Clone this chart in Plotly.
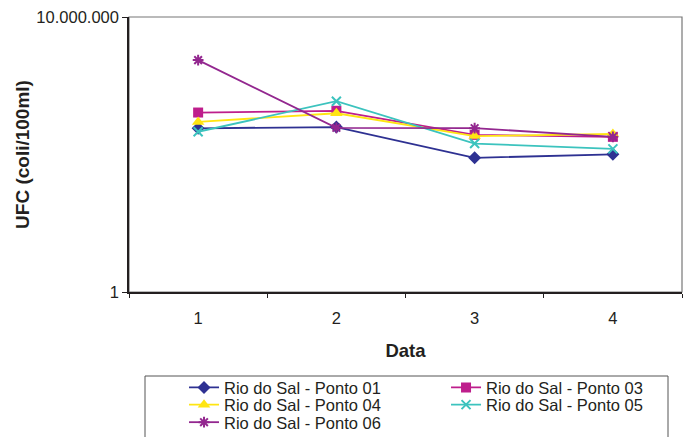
import plotly.graph_objects as go

dates = [1, 2, 3, 4]
ponto01 = [14700, 15800, 2600, 3200]
ponto03 = [37000, 41000, 10000, 8900]
ponto04 = [21400, 35500, 9300, 10500]
ponto05 = [12000, 72000, 6000, 4400]
ponto06 = [800000, 15100, 14800, 8900]

y_tickvals = [1, 10000000]
y_ticktext = ["1", "10.000.000"]
x_ticktext = ["1", "2", "3", "4"]

series = [
    ("Rio do Sal - Ponto 01", ponto01, "#2E3192", "diamond", 10, "legend"),
    ("Rio do Sal - Ponto 03", ponto03, "#BE1E8C", "square", 10, "legend"),
    ("Rio do Sal - Ponto 04", ponto04, "#FFE512", "triangle-up", 11, "legend2"),
    ("Rio do Sal - Ponto 05", ponto05, "#3CC3BE", "x-thin-open", 9, "legend2"),
    ("Rio do Sal - Ponto 06", ponto06, "#93278F", "asterisk-open", 9, "legend3"),
]

font = "Liberation Sans, Arial, sans-serif"
ink = "#231F20"

fig = go.Figure()
for name, vals, color, sym, size, lg in series:
    open_sym = sym.endswith("open")
    fig.add_trace(go.Scatter(
        x=dates, y=vals, name=name, mode="lines+markers", legend=lg,
        line=dict(color=color, width=1.8),
        marker=dict(symbol=sym, size=size, color=color,
                    line=dict(color=color, width=2 if open_sym else 0)),
    ))

def legend_row(y):
    return dict(
        orientation="h", x=0.0995, xanchor="left", y=y, yanchor="top",
        xref="paper", yref="paper",
        entrywidth=217, entrywidthmode="pixels",
        borderwidth=0, bgcolor="rgba(0,0,0,0)",
        font=dict(family=font, size=16.5, color=ink),
        itemsizing="trace",
    )

fig.update_layout(
    width=687, height=437,
    margin=dict(l=129, r=5, t=17, b=145, autoexpand=False),
    paper_bgcolor="white", plot_bgcolor="white",
    font=dict(family=font, size=16, color=ink),
    showlegend=True,
    legend=legend_row(-0.2845),
    legend2=legend_row(-0.347),
    legend3=legend_row(-0.4107),
    xaxis=dict(
        range=[0.5, 4.5], tickvals=dates, ticktext=x_ticktext, ticks="",
        ticklabelstandoff=10,
        showgrid=False, zeroline=False, showline=True, linecolor=ink, linewidth=1.5,
        minor=dict(tickvals=[0.5, 1.5, 2.5, 3.5, 4.5], ticks="outside", ticklen=4,
                   tickcolor=ink, showgrid=False),
        title=dict(text="<b>Data</b>", font=dict(size=18.5, family=font, color=ink), standoff=19),
        tickfont=dict(size=16.5, color=ink),
    ),
    yaxis=dict(
        type="log", range=[0, 7], tickvals=y_tickvals, ticktext=y_ticktext,
        ticks="outside", ticklen=5, tickcolor=ink,
        showgrid=False, zeroline=False, showline=True, linecolor=ink, linewidth=1.5,
        title=dict(text="<b>UFC (coli/100ml)</b>", font=dict(size=19, family=font, color=ink), standoff=2),
        tickfont=dict(size=16.5, color=ink),
    ),
    shapes=[
        dict(type="rect", xref="paper", yref="paper", x0=0, x1=1, y0=0, y1=1,
             line=dict(color="#777777", width=1.2), layer="below"),
        dict(type="rect", xref="paper", yref="paper",
             x0=(145 - 129) / 553, x1=(668 - 129) / 553,
             y0=(292 - 376) / 275, y1=(292 - 460) / 275,
             line=dict(color="#555555", width=1), layer="below"),
    ],
)

fig.write_html(
    "out.html",
    config={"displayModeBar": False},
    post_script="document.body.style.margin='0';document.body.style.overflow='hidden';",
)
